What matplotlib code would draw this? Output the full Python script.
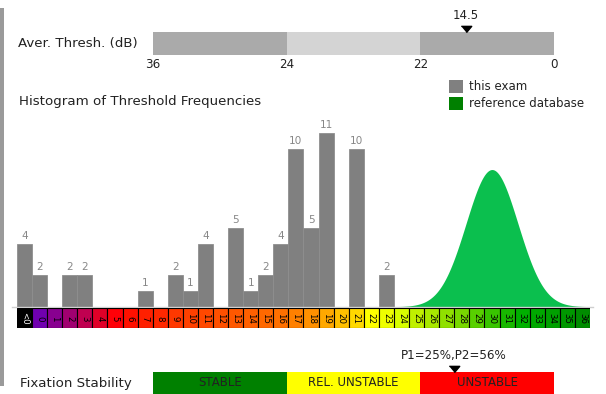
import numpy as np
import matplotlib
matplotlib.use("Agg")
import matplotlib.pyplot as plt
from matplotlib.patches import Rectangle

plt.rcParams["font.family"] = ["DejaVu Sans"]

W, H, DPI = 606, 394, 100

# ---- data -------------------------------------------------------------
categories = ["<0"] + [str(v) for v in range(37)]
counts = [4, 2, 0, 2, 2, 0, 0, 0, 1, 0, 2, 1, 4, 0, 5, 1, 2, 4, 10, 5,
          11, 0, 10, 0, 2, 0, 0, 0, 0, 0, 0, 0, 0, 0, 0, 0, 0, 0]
cell_colors = ["#000000", "#7000b0", "#880090", "#a00070", "#c00050", "#e00028",
               "#ff0008", "#ff1000", "#ff2000", "#ff2800", "#ff3800", "#ff4000",
               "#ff4800", "#ff5000", "#ff5800", "#ff6000", "#ff6800", "#ff7000",
               "#ff8000", "#ff9000", "#ffa800", "#ffc000", "#ffd800", "#ffff00",
               "#eeff00", "#d8ff00", "#c0f000", "#a8e800", "#90e000", "#78d800",
               "#58d000", "#38c400", "#18b800", "#00b000", "#00a800", "#00a000",
               "#009800", "#008c00"]

# reference database distribution (normal model)
ref_mean_db = 30.0
ref_sd_db = 1.72
ref_peak = 8.7

# average threshold scale
thresh_bounds = [36, 24, 22, 0]
thresh_colors = ["#aaaaaa", "#d4d4d4", "#aaaaaa"]
avg_thresh = 14.5

# fixation stability
fix_labels = ["STABLE", "REL. UNSTABLE", "UNSTABLE"]
fix_colors = ["#008000", "#ffff00", "#ff0000"]
fix_text = "P1=25%,P2=56%"
fix_marker_pos = 2.25

TXT = "#222222"
LABEL_FS = 9.6
tri = [(-1, 0.6), (1, 0.6), (0, -0.6)]

fig = plt.figure(figsize=(W / DPI, H / DPI), dpi=DPI)


def px_axes(left, top, right, bottom):
    return fig.add_axes([left / W, 1 - bottom / H, (right - left) / W, (bottom - top) / H])


def fx(x):
    return x / W


def fy(y):
    return 1 - y / H


# side strip
fig.patches.append(Rectangle((0, fy(386)), fx(4), (386 - 8) / H, transform=fig.transFigure,
                             color="#9a9a9a", lw=0))

# ---- average threshold bar ---------------------------------------------
ax_t = px_axes(153, 32, 554, 55)
for i, c in enumerate(thresh_colors):
    ax_t.barh(0.5, 1, left=i, height=1, color=c, lw=0)
ax_t.set_xlim(0, 3)
ax_t.set_ylim(0, 1)
ax_t.set_xticks(range(4))
ax_t.set_xticklabels([str(b) for b in thresh_bounds], fontsize=8.6, color=TXT)
ax_t.tick_params(axis="x", length=0, pad=2.5)
ax_t.set_yticks([])
for s in ax_t.spines.values():
    s.set_visible(False)
tpos = np.interp(avg_thresh, thresh_bounds[::-1], [3, 2, 1, 0])
ax_t.plot(tpos, 1 + 3 / 23, marker=tri, ms=7.5, color="black", clip_on=False, lw=0)
ax_t.text(tpos, 1 + 16.3 / 23, f"{avg_thresh}", ha="center", va="center", fontsize=8.5, color=TXT)
fig.text(fx(18), fy(43.5), "Aver. Thresh. (dB)", ha="left", va="center", fontsize=LABEL_FS, color=TXT)

# ---- histogram -----------------------------------------------------------
fig.text(fx(19), fy(101), "Histogram of Threshold Frequencies", ha="left", va="center",
         fontsize=LABEL_FS, color=TXT)

ax = px_axes(17, 117.5, 590, 306.7)
n = len(categories)
xs = np.linspace(0, n, 1200)
centre = ref_mean_db + 1.5
ys = ref_peak * np.exp(-0.5 * ((xs - centre) / ref_sd_db) ** 2)
ax.fill_between(xs, 0, ys, color="#0bbf4e", lw=0, zorder=1)

idx = np.arange(n)
cnt = np.array(counts)
mask = cnt > 0
ax.bar(idx[mask], cnt[mask], width=1, align="edge", color="#808080",
       edgecolor="#8e8e8e", lw=0.6, zorder=2)
for i in idx[mask]:
    ax.annotate(str(cnt[i]), (i + 0.5, cnt[i]), xytext=(0, 2), textcoords="offset points",
                ha="center", va="bottom", fontsize=7.6, color="#888888")
ax.plot([-0.35, n + 0.2], [0, 0], color="#cfcfcf", lw=1, clip_on=False, zorder=3)
ax.set_xlim(0, n)
ax.set_ylim(0, 12)
ax.axis("off")

# legend
for y0, col, lab in [(80, "#808080", "this exam"), (97, "#008000", "reference database")]:
    fig.patches.append(Rectangle((fx(449), fy(y0 + 13)), 14 / W, 13 / H,
                                 transform=fig.transFigure, color=col, lw=0))
    fig.text(fx(469), fy(y0 + 6.5), lab, ha="left", va="center", fontsize=8.5, color=TXT)

# colour strip
ax_s = px_axes(17, 308.3, 590, 328.3)
ax_s.bar(idx, np.ones(n), width=1, align="edge", color=cell_colors,
         edgecolor="black", lw=0.8)
for i, lab in enumerate(categories):
    ax_s.text(i + 0.5, 0.5, lab, rotation=-90, ha="center", va="center", fontsize=6.2,
              color="white" if i == 0 else "black")
ax_s.set_xlim(0, n)
ax_s.set_ylim(0, 1)
ax_s.axis("off")

# ---- fixation stability ------------------------------------------------
ax_f = px_axes(153, 372, 554, 394)
for i, (c, lab) in enumerate(zip(fix_colors, fix_labels)):
    ax_f.barh(0.5, 1, left=i, height=1, color=c, lw=0)
    ax_f.text(i + 0.5, 0.5, lab, ha="center", va="center", fontsize=8.5, color=TXT)
ax_f.set_xlim(0, 3)
ax_f.set_ylim(0, 1)
ax_f.axis("off")
ax_f.plot(fix_marker_pos, 1 + 3 / 22, marker=tri, ms=7.5, color="black", clip_on=False, lw=0)
ax_f.text(fix_marker_pos, 1 + 16 / 22, fix_text, ha="center", va="center", fontsize=8.6, color=TXT)
fig.text(fx(20), fy(383.5), "Fixation Stability", ha="left", va="center", fontsize=LABEL_FS, color=TXT)

fig.savefig("out.png", dpi=DPI)
